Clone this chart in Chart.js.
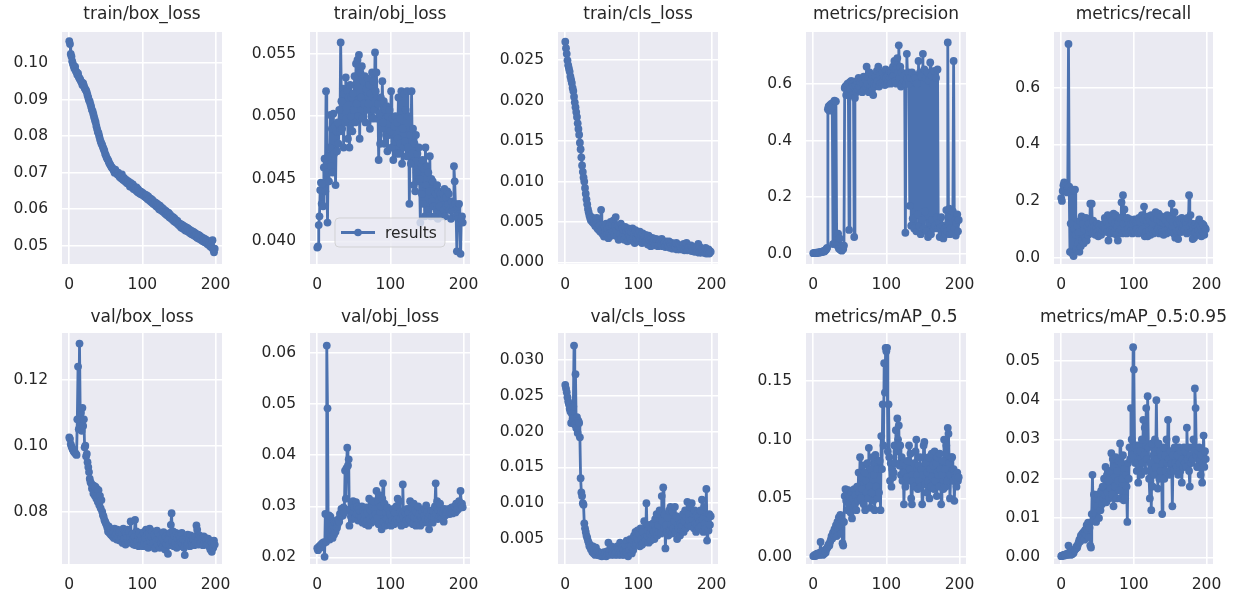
<!DOCTYPE html>
<html>
<head>
<meta charset="utf-8">
<script src="https://cdn.jsdelivr.net/npm/chart.js@4.4.1/dist/chart.umd.min.js"></script>
<style>
html,body{margin:0;padding:0;background:#fff;overflow:hidden;}
#wrap{position:relative;width:1239px;height:600px;background:#fff;}
canvas{position:absolute;}
</style>
</head>
<body>
<div id="wrap"></div>
<script>
// ---------------- DATA ----------------
const titles = ["train/box_loss","train/obj_loss","train/cls_loss","metrics/precision","metrics/recall",
                "val/box_loss","val/obj_loss","val/cls_loss","metrics/mAP_0.5","metrics/mAP_0.5:0.95"];
const xTicks = [0, 100, 200];
const legendLabel = "results";

const trainBox = [
0.1060,0.1052,0.1025,0.1018,0.1005,0.0998,0.0992,0.0985,0.0990,0.0978,
0.0975,0.0968,0.0972,0.0962,0.0958,0.0955,0.0950,0.0947,0.0940,0.0945,
0.0938,0.0932,0.0928,0.0925,0.0920,0.0912,0.0905,0.0898,0.0895,0.0887,
0.0880,0.0872,0.0868,0.0860,0.0852,0.0845,0.0838,0.0828,0.0820,0.0812,
0.0808,0.0800,0.0792,0.0785,0.0780,0.0776,0.0770,0.0765,0.0760,0.0752,
0.0748,0.0742,0.0738,0.0735,0.0730,0.0725,0.0722,0.0718,0.0715,0.0712,
0.0710,0.0705,0.0700,0.0708,0.0702,0.0698,0.0695,0.0700,0.0692,0.0688,
0.0690,0.0685,0.0695,0.0682,0.0680,0.0686,0.0678,0.0675,0.0680,0.0672,
0.0670,0.0676,0.0668,0.0662,0.0672,0.0665,0.0660,0.0668,0.0655,0.0662,
0.0658,0.0652,0.0660,0.0648,0.0655,0.0645,0.0650,0.0642,0.0648,0.0640,
0.0645,0.0638,0.0642,0.0635,0.0640,0.0632,0.0638,0.0628,0.0635,0.0625,
0.0630,0.0622,0.0628,0.0618,0.0625,0.0615,0.0620,0.0612,0.0618,0.0608,
0.0615,0.0605,0.0612,0.0600,0.0610,0.0598,0.0605,0.0595,0.0602,0.0592,
0.0598,0.0588,0.0595,0.0585,0.0592,0.0582,0.0590,0.0578,0.0585,0.0575,
0.0580,0.0572,0.0578,0.0568,0.0575,0.0565,0.0570,0.0562,0.0568,0.0558,
0.0562,0.0555,0.0560,0.0550,0.0558,0.0548,0.0555,0.0545,0.0552,0.0542,
0.0550,0.0540,0.0548,0.0538,0.0545,0.0535,0.0542,0.0532,0.0540,0.0530,
0.0538,0.0528,0.0535,0.0525,0.0532,0.0522,0.0530,0.0520,0.0528,0.0518,
0.0525,0.0515,0.0522,0.0512,0.0520,0.0510,0.0518,0.0508,0.0515,0.0505,
0.0512,0.0502,0.0508,0.0498,0.0505,0.0495,0.0515,0.0490,0.0482,0.0492];

const trainObj = [
0.0395,0.0396,0.0413,0.0420,0.0441,0.0447,0.0430,0.0446,0.0428,0.0459,
0.0466,0.0440,0.0520,0.0455,0.0415,0.0468,0.0448,0.0475,0.0501,0.0460,
0.0490,0.0455,0.0502,0.0470,0.0492,0.0445,0.0488,0.0472,0.0495,0.0478,
0.0505,0.0488,0.0559,0.0512,0.0490,0.0522,0.0475,0.0518,0.0495,0.0531,
0.0498,0.0520,0.0482,0.0515,0.0475,0.0525,0.0500,0.0515,0.0488,0.0518,
0.0505,0.0532,0.0495,0.0542,0.0510,0.0545,0.0500,0.0549,0.0482,0.0535,
0.0515,0.0540,0.0498,0.0528,0.0510,0.0532,0.0495,0.0522,0.0505,0.0530,
0.0510,0.0525,0.0490,0.0518,0.0500,0.0535,0.0498,0.0528,0.0505,0.0551,
0.0520,0.0535,0.0498,0.0510,0.0465,0.0502,0.0478,0.0515,0.0490,0.0528,
0.0495,0.0512,0.0478,0.0505,0.0485,0.0508,0.0472,0.0500,0.0485,0.0505,
0.0488,0.0520,0.0475,0.0498,0.0465,0.0492,0.0480,0.0500,0.0470,0.0495,
0.0482,0.0515,0.0470,0.0498,0.0478,0.0520,0.0462,0.0490,0.0475,0.0518,
0.0480,0.0505,0.0468,0.0520,0.0475,0.0500,0.0430,0.0485,0.0462,0.0520,
0.0470,0.0490,0.0445,0.0478,0.0440,0.0485,0.0455,0.0470,0.0448,0.0475,
0.0450,0.0415,0.0462,0.0438,0.0465,0.0430,0.0458,0.0420,0.0475,0.0445,
0.0460,0.0425,0.0455,0.0440,0.0468,0.0420,0.0450,0.0432,0.0448,0.0428,
0.0440,0.0420,0.0438,0.0425,0.0445,0.0418,0.0440,0.0428,0.0438,0.0422,
0.0435,0.0420,0.0438,0.0425,0.0442,0.0420,0.0435,0.0428,0.0440,0.0430,
0.0438,0.0425,0.0430,0.0418,0.0432,0.0425,0.0428,0.0460,0.0448,0.0430,
0.0420,0.0392,0.0428,0.0418,0.0430,0.0415,0.0390,0.0418,0.0420,0.0415];

const trainCls = [
0.0273,0.0265,0.0258,0.0250,0.0244,0.0240,0.0236,0.0230,0.0226,0.0222,
0.0216,0.0212,0.0205,0.0198,0.0192,0.0186,0.0180,0.0172,0.0165,0.0158,
0.0148,0.0140,0.0130,0.0120,0.0112,0.0105,0.0100,0.0092,0.0085,0.0078,
0.0072,0.0066,0.0062,0.0058,0.0055,0.0052,0.0056,0.0050,0.0053,0.0048,
0.0052,0.0045,0.0050,0.0055,0.0042,0.0048,0.0040,0.0046,0.0038,0.0065,
0.0042,0.0035,0.0046,0.0032,0.0044,0.0038,0.0048,0.0035,0.0042,0.0030,
0.0045,0.0036,0.0050,0.0033,0.0047,0.0038,0.0052,0.0034,0.0045,0.0056,
0.0040,0.0032,0.0046,0.0028,0.0043,0.0035,0.0048,0.0030,0.0042,0.0036,
0.0040,0.0028,0.0044,0.0032,0.0038,0.0026,0.0042,0.0034,0.0040,0.0030,
0.0038,0.0027,0.0042,0.0031,0.0036,0.0024,0.0040,0.0030,0.0036,0.0028,
0.0035,0.0026,0.0038,0.0030,0.0034,0.0024,0.0036,0.0028,0.0033,0.0025,
0.0034,0.0026,0.0032,0.0022,0.0033,0.0027,0.0031,0.0020,0.0030,0.0025,
0.0030,0.0024,0.0028,0.0021,0.0029,0.0025,0.0027,0.0020,0.0028,0.0023,
0.0027,0.0022,0.0029,0.0020,0.0026,0.0023,0.0025,0.0019,0.0026,0.0022,
0.0024,0.0020,0.0026,0.0018,0.0023,0.0021,0.0024,0.0017,0.0023,0.0020,
0.0022,0.0019,0.0024,0.0016,0.0022,0.0019,0.0021,0.0016,0.0020,0.0018,
0.0021,0.0017,0.0023,0.0015,0.0020,0.0018,0.0024,0.0015,0.0019,0.0017,
0.0019,0.0015,0.0021,0.0014,0.0018,0.0016,0.0019,0.0013,0.0017,0.0015,
0.0018,0.0013,0.0023,0.0012,0.0019,0.0014,0.0017,0.0012,0.0016,0.0014,
0.0016,0.0012,0.0018,0.0011,0.0015,0.0013,0.0016,0.0011,0.0014,0.0013];

const precision = [
0.003,0.003,0.004,0.003,0.005,0.004,0.005,0.006,0.005,0.007,
0.006,0.008,0.007,0.009,0.010,0.009,0.012,0.014,0.018,0.022,
0.510,0.520,0.505,0.525,0.515,0.530,0.520,0.035,0.535,0.540,
0.040,0.538,0.060,0.030,0.072,0.020,0.055,0.015,0.030,0.012,
0.025,0.018,0.030,0.585,0.590,0.560,0.595,0.600,0.575,0.085,
0.605,0.580,0.610,0.560,0.600,0.590,0.060,0.550,0.595,0.570,
0.610,0.580,0.620,0.590,0.605,0.585,0.615,0.570,0.600,0.625,
0.580,0.615,0.590,0.660,0.600,0.625,0.570,0.640,0.595,0.610,
0.575,0.630,0.560,0.600,0.590,0.625,0.600,0.645,0.610,0.660,
0.590,0.630,0.600,0.615,0.605,0.640,0.610,0.625,0.595,0.650,
0.620,0.600,0.630,0.610,0.645,0.620,0.600,0.640,0.625,0.660,
0.630,0.680,0.610,0.650,0.600,0.690,0.640,0.735,0.620,0.660,
0.590,0.640,0.600,0.620,0.610,0.630,0.075,0.600,0.705,0.620,
0.640,0.600,0.170,0.620,0.100,0.640,0.125,0.615,0.090,0.630,
0.620,0.080,0.600,0.140,0.680,0.100,0.640,0.070,0.625,0.120,
0.705,0.090,0.650,0.150,0.620,0.080,0.640,0.060,0.610,0.110,
0.675,0.070,0.630,0.120,0.600,0.090,0.645,0.100,0.620,0.130,
0.650,0.090,0.110,0.060,0.095,0.130,0.070,0.100,0.055,0.085,
0.090,0.070,0.155,0.080,0.745,0.110,0.160,0.070,0.090,0.130,
0.075,0.150,0.680,0.090,0.120,0.065,0.110,0.140,0.080,0.120];

const recall = [
0.210,0.200,0.235,0.255,0.265,0.250,0.240,0.255,0.230,0.245,
0.755,0.250,0.020,0.120,0.235,0.015,0.240,0.005,0.100,0.240,
0.080,0.030,0.110,0.050,0.090,0.020,0.130,0.040,0.145,0.060,
0.120,0.050,0.100,0.070,0.140,0.060,0.110,0.080,0.120,0.090,
0.190,0.100,0.190,0.085,0.130,0.095,0.110,0.080,0.105,0.090,
0.120,0.075,0.110,0.085,0.100,0.080,0.115,0.095,0.110,0.120,
0.140,0.100,0.130,0.090,0.150,0.060,0.120,0.095,0.145,0.085,
0.130,0.100,0.155,0.090,0.120,0.150,0.080,0.110,0.060,0.125,
0.090,0.140,0.100,0.195,0.085,0.220,0.120,0.170,0.095,0.130,
0.085,0.140,0.100,0.125,0.090,0.135,0.095,0.120,0.085,0.130,
0.095,0.135,0.090,0.125,0.100,0.130,0.085,0.140,0.095,0.125,
0.090,0.150,0.100,0.135,0.180,0.075,0.140,0.090,0.130,0.075,
0.145,0.095,0.130,0.080,0.150,0.100,0.125,0.085,0.140,0.095,
0.160,0.090,0.135,0.100,0.155,0.085,0.130,0.095,0.145,0.090,
0.125,0.080,0.140,0.095,0.130,0.085,0.150,0.100,0.120,0.090,
0.135,0.095,0.190,0.110,0.125,0.085,0.160,0.070,0.130,0.095,
0.120,0.065,0.135,0.100,0.125,0.090,0.140,0.105,0.115,0.095,
0.130,0.100,0.125,0.085,0.140,0.095,0.220,0.110,0.150,0.090,
0.120,0.065,0.105,0.070,0.115,0.090,0.120,0.080,0.110,0.095,
0.135,0.085,0.110,0.075,0.120,0.090,0.115,0.080,0.105,0.100];

const valBox = [
0.1025,0.1020,0.1005,0.0998,0.0992,0.0988,0.0983,0.0980,0.0978,0.0975,
0.0972,0.1080,0.1240,0.1050,0.1310,0.1090,0.1100,0.1045,0.1115,0.1060,
0.1080,0.0995,0.1000,0.0968,0.0975,0.0950,0.0935,0.0920,0.0900,0.0890,
0.0885,0.0870,0.0880,0.0855,0.0878,0.0848,0.0875,0.0840,0.0868,0.0830,
0.0865,0.0820,0.0848,0.0810,0.0835,0.0800,0.0790,0.0785,0.0775,0.0770,
0.0765,0.0760,0.0752,0.0740,0.0755,0.0735,0.0748,0.0730,0.0745,0.0725,
0.0740,0.0720,0.0748,0.0728,0.0735,0.0715,0.0745,0.0722,0.0738,0.0712,
0.0742,0.0725,0.0735,0.0705,0.0748,0.0718,0.0740,0.0700,0.0735,0.0720,
0.0745,0.0710,0.0738,0.0720,0.0770,0.0705,0.0732,0.0715,0.0700,0.0725,
0.0775,0.0698,0.0740,0.0710,0.0728,0.0695,0.0735,0.0715,0.0700,0.0725,
0.0712,0.0695,0.0738,0.0705,0.0720,0.0745,0.0700,0.0730,0.0690,0.0735,
0.0748,0.0710,0.0725,0.0695,0.0740,0.0705,0.0730,0.0688,0.0722,0.0712,
0.0742,0.0700,0.0735,0.0715,0.0690,0.0728,0.0705,0.0720,0.0695,0.0738,
0.0710,0.0685,0.0725,0.0700,0.0718,0.0672,0.0715,0.0698,0.0735,0.0760,
0.0795,0.0710,0.0740,0.0695,0.0725,0.0705,0.0735,0.0690,0.0720,0.0700,
0.0730,0.0695,0.0722,0.0708,0.0735,0.0700,0.0715,0.0690,0.0668,0.0710,
0.0725,0.0698,0.0730,0.0705,0.0718,0.0695,0.0728,0.0710,0.0700,0.0720,
0.0712,0.0698,0.0725,0.0705,0.0758,0.0745,0.0715,0.0700,0.0728,0.0710,
0.0722,0.0705,0.0718,0.0698,0.0725,0.0710,0.0720,0.0702,0.0715,0.0700,
0.0718,0.0695,0.0712,0.0685,0.0710,0.0678,0.0705,0.0690,0.0712,0.0700];

const valObj = [
0.0218,0.0214,0.0220,0.0222,0.0219,0.0225,0.0223,0.0228,0.0226,0.0230,
0.0201,0.0285,0.0230,0.0615,0.0492,0.0245,0.0282,0.0235,0.0280,0.0240,
0.0255,0.0238,0.0262,0.0245,0.0268,0.0250,0.0272,0.0258,0.0265,0.0275,
0.0270,0.0285,0.0280,0.0295,0.0290,0.0282,0.0298,0.0288,0.0370,0.0315,
0.0375,0.0415,0.0380,0.0392,0.0262,0.0295,0.0280,0.0305,0.0275,0.0310,
0.0290,0.0298,0.0278,0.0308,0.0285,0.0300,0.0272,0.0295,0.0282,0.0290,
0.0278,0.0300,0.0268,0.0292,0.0275,0.0285,0.0265,0.0298,0.0270,0.0288,
0.0262,0.0315,0.0275,0.0292,0.0268,0.0300,0.0280,0.0310,0.0272,0.0295,
0.0285,0.0330,0.0278,0.0310,0.0265,0.0322,0.0290,0.0300,0.0255,0.0315,
0.0345,0.0270,0.0305,0.0262,0.0288,0.0275,0.0298,0.0265,0.0290,0.0270,
0.0285,0.0262,0.0280,0.0272,0.0295,0.0265,0.0288,0.0270,0.0300,0.0275,
0.0315,0.0268,0.0310,0.0275,0.0290,0.0262,0.0285,0.0343,0.0278,0.0290,
0.0265,0.0285,0.0272,0.0295,0.0268,0.0288,0.0275,0.0310,0.0270,0.0298,
0.0282,0.0265,0.0305,0.0278,0.0292,0.0262,0.0288,0.0275,0.0300,0.0270,
0.0285,0.0262,0.0280,0.0272,0.0290,0.0268,0.0282,0.0295,0.0275,0.0302,
0.0288,0.0268,0.0275,0.0255,0.0285,0.0270,0.0292,0.0278,0.0268,0.0290,
0.0280,0.0300,0.0345,0.0285,0.0310,0.0275,0.0292,0.0280,0.0305,0.0285,
0.0290,0.0278,0.0288,0.0270,0.0295,0.0282,0.0290,0.0285,0.0292,0.0288,
0.0295,0.0285,0.0290,0.0288,0.0298,0.0286,0.0292,0.0290,0.0300,0.0288,
0.0305,0.0292,0.0300,0.0295,0.0310,0.0298,0.0330,0.0302,0.0305,0.0298];

const valCls = [
0.0265,0.0260,0.0255,0.0248,0.0242,0.0238,0.0232,0.0228,0.0212,0.0225,
0.0218,0.0235,0.0320,0.0210,0.0280,0.0205,0.0220,0.0198,0.0215,0.0212,
0.0192,0.0135,0.0115,0.0110,0.0100,0.0098,0.0072,0.0065,0.0060,0.0055,
0.0052,0.0048,0.0045,0.0040,0.0042,0.0036,0.0038,0.0032,0.0040,0.0030,
0.0035,0.0028,0.0038,0.0030,0.0033,0.0028,0.0032,0.0027,0.0030,0.0028,
0.0026,0.0030,0.0027,0.0032,0.0028,0.0030,0.0026,0.0033,0.0029,0.0045,
0.0030,0.0035,0.0028,0.0040,0.0032,0.0030,0.0038,0.0028,0.0035,0.0030,
0.0032,0.0040,0.0028,0.0035,0.0030,0.0045,0.0033,0.0028,0.0038,0.0030,
0.0035,0.0028,0.0042,0.0032,0.0048,0.0030,0.0026,0.0040,0.0035,0.0050,
0.0040,0.0030,0.0048,0.0035,0.0055,0.0042,0.0060,0.0045,0.0052,0.0062,
0.0048,0.0058,0.0040,0.0065,0.0050,0.0042,0.0060,0.0045,0.0075,0.0052,
0.0048,0.0100,0.0055,0.0062,0.0045,0.0070,0.0058,0.0048,0.0065,0.0055,
0.0072,0.0060,0.0050,0.0078,0.0062,0.0085,0.0055,0.0070,0.0060,0.0090,
0.0068,0.0058,0.0110,0.0075,0.0122,0.0065,0.0085,0.0037,0.0070,0.0060,
0.0080,0.0055,0.0090,0.0062,0.0095,0.0070,0.0058,0.0088,0.0065,0.0075,
0.0095,0.0060,0.0082,0.0050,0.0070,0.0065,0.0078,0.0055,0.0072,0.0062,
0.0068,0.0085,0.0060,0.0075,0.0090,0.0065,0.0080,0.0102,0.0070,0.0085,
0.0075,0.0095,0.0068,0.0100,0.0078,0.0085,0.0065,0.0090,0.0072,0.0060,
0.0085,0.0070,0.0080,0.0065,0.0075,0.0090,0.0068,0.0105,0.0078,0.0060,
0.0095,0.0072,0.0065,0.0120,0.0048,0.0080,0.0062,0.0085,0.0070,0.0082];

const map50 = [
0.001,0.001,0.002,0.001,0.002,0.003,0.002,0.003,0.002,0.004,
0.013,0.003,0.005,0.002,0.004,0.003,0.006,0.004,0.007,0.008,
0.009,0.011,0.010,0.013,0.015,0.018,0.016,0.021,0.019,0.024,
0.022,0.027,0.018,0.030,0.025,0.034,0.028,0.036,0.020,0.032,
0.012,0.010,0.030,0.052,0.058,0.048,0.055,0.040,0.057,0.045,
0.052,0.038,0.055,0.033,0.050,0.042,0.058,0.045,0.053,0.040,
0.060,0.048,0.072,0.055,0.085,0.050,0.068,0.058,0.078,0.045,
0.072,0.040,0.065,0.055,0.080,0.050,0.093,0.060,0.042,0.075,
0.055,0.085,0.048,0.070,0.040,0.087,0.060,0.075,0.050,0.082,
0.055,0.082,0.040,0.103,0.075,0.130,0.095,0.165,0.140,0.178,
0.175,0.178,0.090,0.130,0.085,0.065,0.080,0.060,0.075,0.068,
0.072,0.095,0.080,0.108,0.090,0.118,0.100,0.112,0.078,0.095,
0.070,0.085,0.065,0.080,0.045,0.072,0.060,0.078,0.068,0.082,
0.065,0.095,0.075,0.088,0.050,0.045,0.070,0.065,0.080,0.060,
0.090,0.100,0.070,0.058,0.078,0.065,0.085,0.060,0.075,0.045,
0.070,0.095,0.098,0.062,0.080,0.055,0.072,0.065,0.085,0.050,
0.075,0.060,0.088,0.068,0.078,0.058,0.090,0.065,0.080,0.052,
0.085,0.070,0.060,0.088,0.075,0.045,0.070,0.082,0.058,0.100,
0.075,0.060,0.095,0.065,0.110,0.105,0.080,0.050,0.070,0.085,
0.085,0.065,0.075,0.048,0.070,0.068,0.060,0.072,0.065,0.068];

const map5095 = [
0.0003,0.0004,0.0005,0.0004,0.0006,0.0007,0.0005,0.0008,0.0006,0.0010,
0.0030,0.0008,0.0012,0.0006,0.0010,0.0008,0.0014,0.0011,0.0018,0.0020,
0.0022,0.0028,0.0025,0.0032,0.0038,0.0045,0.0040,0.0055,0.0048,0.0060,
0.0052,0.0065,0.0045,0.0070,0.0058,0.0082,0.0068,0.0088,0.0050,0.0075,
0.0030,0.0025,0.0110,0.0210,0.0095,0.0160,0.0120,0.0155,0.0090,0.0150,
0.0130,0.0160,0.0100,0.0145,0.0120,0.0170,0.0135,0.0180,0.0150,0.0200,
0.0160,0.0230,0.0140,0.0210,0.0165,0.0195,0.0150,0.0220,0.0175,0.0265,
0.0160,0.0250,0.0130,0.0230,0.0180,0.0255,0.0150,0.0220,0.0195,0.0245,
0.0170,0.0290,0.0150,0.0240,0.0200,0.0260,0.0145,0.0225,0.0150,0.0210,
0.0180,0.0090,0.0240,0.0200,0.0280,0.0250,0.0380,0.0300,0.0260,0.0535,
0.0478,0.0280,0.0240,0.0285,0.0220,0.0270,0.0190,0.0285,0.0230,0.0270,
0.0210,0.0300,0.0240,0.0350,0.0260,0.0330,0.0220,0.0380,0.0250,0.0410,
0.0280,0.0200,0.0150,0.0240,0.0120,0.0290,0.0180,0.0260,0.0210,0.0300,
0.0230,0.0400,0.0250,0.0175,0.0290,0.0200,0.0270,0.0220,0.0260,0.0110,
0.0240,0.0280,0.0200,0.0260,0.0220,0.0300,0.0240,0.0350,0.0250,0.0210,
0.0270,0.0220,0.0240,0.0130,0.0260,0.0220,0.0280,0.0240,0.0300,0.0230,
0.0260,0.0210,0.0280,0.0240,0.0220,0.0270,0.0190,0.0250,0.0230,0.0280,
0.0240,0.0270,0.0230,0.0330,0.0250,0.0280,0.0220,0.0180,0.0260,0.0240,
0.0280,0.0250,0.0300,0.0270,0.0430,0.0380,0.0260,0.0230,0.0230,0.0270,
0.0280,0.0250,0.0210,0.0260,0.0190,0.0240,0.0310,0.0230,0.0270,0.0250];

// y tick values per panel
const yTicksTrainBox = [0.05,0.06,0.07,0.08,0.09,0.10];
const yTicksTrainObj = [0.040,0.045,0.050,0.055];
const yTicksTrainCls = [0.000,0.005,0.010,0.015,0.020,0.025];
const yTicksPrecision = [0.0,0.2,0.4,0.6];
const yTicksRecall = [0.0,0.2,0.4,0.6];
const yTicksValBox = [0.08,0.10,0.12];
const yTicksValObj = [0.02,0.03,0.04,0.05,0.06];
const yTicksValCls = [0.005,0.010,0.015,0.020,0.025,0.030];
const yTicksMap50 = [0.00,0.05,0.10,0.15];
const yTicksMap5095 = [0.00,0.01,0.02,0.03,0.04,0.05];

const series = [trainBox,trainObj,trainCls,precision,recall,valBox,valObj,valCls,map50,map5095];
const yTicks = [yTicksTrainBox,yTicksTrainObj,yTicksTrainCls,yTicksPrecision,yTicksRecall,
                yTicksValBox,yTicksValObj,yTicksValCls,yTicksMap50,yTicksMap5095];
const decimals = [2,3,3,1,1,2,2,3,2,2];
const yMin = [0.0450,0.03819,-0.0002,-0.035,-0.023,0.0641,0.0187,0.00153,-0.0057,-0.0017];
const yMax = [0.1085,0.05673,0.0285,0.782,0.797,0.1342,0.06396,0.03375,0.1906,0.0571];

// ---------------- DRAWING ----------------
const BLUE = '#4C72B0';
const TEXT = '#262626';
const FONT = '"DejaVu Sans", sans-serif';
const PANEL_W = 248, PANEL_H = 300;
const PLOT_LEFT = 62, PLOT_RIGHT = 222, PLOT_TOP = 32, PLOT_BOTTOM = 264;

const bgPlugin = {
  id: 'bg',
  beforeDraw(chart) {
    const {ctx, chartArea: a} = chart;
    ctx.save();
    ctx.fillStyle = '#EAEAF2';
    ctx.fillRect(a.left, a.top, a.right - a.left, a.bottom - a.top);
    ctx.restore();
  }
};

function titlePlugin(text, y) {
  return {
    id: 'ttl',
    afterDraw(chart) {
      const {ctx, chartArea: a} = chart;
      ctx.save();
      ctx.font = '17px ' + FONT;
      ctx.fillStyle = TEXT;
      ctx.textAlign = 'center';
      ctx.textBaseline = 'middle';
      ctx.fillText(text, (a.left + a.right) / 2, y);
      ctx.restore();
    }
  };
}

const legendPlugin = {
  id: 'lgd',
  afterDraw(chart) {
    const ctx = chart.ctx;
    const x = 87, y = 218, w = 110, h = 29, r = 4;
    ctx.save();
    ctx.beginPath();
    ctx.moveTo(x + r, y);
    ctx.arcTo(x + w, y, x + w, y + h, r);
    ctx.arcTo(x + w, y + h, x, y + h, r);
    ctx.arcTo(x, y + h, x, y, r);
    ctx.arcTo(x, y, x + w, y, r);
    ctx.closePath();
    ctx.fillStyle = 'rgba(234,234,242,0.8)';
    ctx.fill();
    ctx.strokeStyle = 'rgba(204,204,204,0.8)';
    ctx.lineWidth = 1;
    ctx.stroke();
    const cy = y + h / 2;
    ctx.strokeStyle = BLUE;
    ctx.lineWidth = 2.8;
    ctx.beginPath();
    ctx.moveTo(x + 6, cy);
    ctx.lineTo(x + 40, cy);
    ctx.stroke();
    ctx.fillStyle = BLUE;
    ctx.beginPath();
    ctx.arc(x + 23, cy, 3.8, 0, Math.PI * 2);
    ctx.fill();
    ctx.font = '15.5px ' + FONT;
    ctx.fillStyle = TEXT;
    ctx.textAlign = 'left';
    ctx.textBaseline = 'middle';
    ctx.fillText(legendLabel, x + 50, cy + 1);
    ctx.restore();
  }
};

const wrap = document.getElementById('wrap');
series.forEach((vals, i) => {
  const col = i % 5, row = Math.floor(i / 5);
  const cv = document.createElement('canvas');
  const w = Math.min(PANEL_W, 1239 - col * PANEL_W);
  cv.width = w; cv.height = PANEL_H;
  cv.style.left = (col * PANEL_W) + 'px';
  cv.style.top = (row * PANEL_H) + 'px';
  cv.style.width = w + 'px'; cv.style.height = PANEL_H + 'px';
  wrap.appendChild(cv);
  const plotTop = row === 0 ? PLOT_TOP : PLOT_TOP + 1;
  const titleY = row === 0 ? 15 : 18;
  const pts = vals.map((v, k) => ({x: k, y: v}));
  const tks = yTicks[i];
  const dec = decimals[i];
  const plugins = [bgPlugin, titlePlugin(titles[i], titleY)];
  if (i === 1) plugins.push(legendPlugin);
  new Chart(cv, {
    type: 'line',
    data: {datasets: [{
      data: pts, borderColor: BLUE, backgroundColor: BLUE, borderWidth: 2.8,
      borderJoinStyle: 'round', borderCapStyle: 'round',
      pointRadius: 3.9, pointBorderWidth: 0, pointBackgroundColor: BLUE,
      tension: 0, fill: false
    }]},
    options: {
      responsive: false, animation: false, devicePixelRatio: 1, events: [],
      layout: {padding: {left: 0, right: w - (PLOT_RIGHT - (PANEL_W - w)), top: plotTop, bottom: 0}},
      plugins: {legend: {display: false}, tooltip: {enabled: false}, title: {display: false}},
      scales: {
        x: {
          type: 'linear', min: -9.95, max: 208.95,
          afterBuildTicks: s => { s.ticks = xTicks.map(v => ({value: v})); },
          afterFit: s => { s.height = PANEL_H - PLOT_BOTTOM; },
          grid: {color: '#FFFFFF', lineWidth: 1.6, drawTicks: false},
          border: {display: false},
          ticks: {color: TEXT, font: {family: FONT, size: 15.5}, padding: 12, maxRotation: 0, autoSkip: false,
                  callback: v => String(v)}
        },
        y: {
          min: yMin[i], max: yMax[i],
          afterBuildTicks: s => { s.ticks = tks.map(v => ({value: v})); },
          afterFit: s => { s.width = PLOT_LEFT; },
          grid: {color: '#FFFFFF', lineWidth: 1.6, drawTicks: false},
          border: {display: false},
          ticks: {color: TEXT, font: {family: FONT, size: 15.5}, padding: 14, autoSkip: false,
                  callback: v => Number(v).toFixed(dec)}
        }
      }
    },
    plugins: plugins
  });
});
</script>
</body>
</html>
